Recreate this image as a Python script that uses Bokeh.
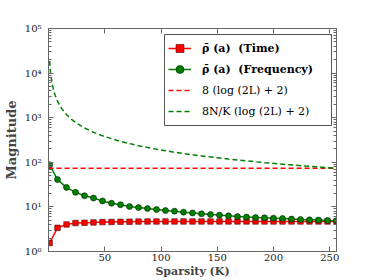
from bokeh.plotting import figure
from bokeh.models import (Range1d, LinearAxis, LogAxis, LogTicker, FixedTicker, Legend,
                          LegendItem, CustomJSTickFormatter, CustomLabelingPolicy,
                          BoxAnnotation)
from bokeh.embed import file_html
from bokeh.resources import INLINE

# ---- data ----
k_markers = [1, 8, 16, 24, 32, 40, 48, 56, 64, 72, 80, 88, 96, 104, 112, 120, 128,
             136, 144, 152, 160, 168, 176, 184, 192, 200, 208, 216, 224, 232, 240, 248, 256]
rho_time = [1.55, 3.4, 4.04, 4.34, 4.41, 4.48, 4.56, 4.6, 4.64, 4.66, 4.68, 4.7, 4.7,
            4.71, 4.71, 4.71, 4.72, 4.72, 4.72, 4.72, 4.72, 4.72, 4.72, 4.72, 4.72,
            4.72, 4.72, 4.72, 4.72, 4.72, 4.72, 4.72, 4.72]
rho_freq = [88, 41, 27.4, 21.2, 17.8, 15.8, 13.6, 12.1, 11.2, 10.2, 9.65, 9.17, 8.71,
            8.27, 8.02, 7.62, 7.3, 6.99, 6.74, 6.54, 6.31, 6.09, 5.9, 5.78, 5.7, 5.6,
            5.5, 5.33, 5.22, 5.14, 5.06, 4.96, 4.88]
bound_k = [0, 256]
bound_const = [73.5, 73.5]
bound_scaled_k = [1, 1.5, 2, 2.5, 3, 4, 5, 6, 8, 10, 12, 16, 20, 24, 32, 40, 48, 64, 80,
                  96, 112, 128, 160, 192, 224, 256]
bound_scaled = [18800, 12500, 9400, 7530, 6270, 4700, 3760, 3140, 2350, 1880, 1570, 1180,
                941, 784, 588, 470, 392, 294, 235, 196, 168, 147, 118, 98, 84, 73.5]
x_ticks = [50, 100, 150, 200, 250]
y_tick_labels = ["10\u2070", "10\u00b9", "10\u00b2", "10\u00b3", "10\u2074", "10\u2075"]
labels = ["\u03c1\u0304 (a)  (Time)", "\u03c1\u0304 (a)  (Frequency)",
          "8 (log (2L) + 2)", "8N/K (log (2L) + 2)"]

FONT = "DejaVu Serif"
AX = "#666666"

p = figure(width=374, height=280, x_range=Range1d(0, 256), y_range=Range1d(1, 1e5),
           y_axis_type="log", output_backend="svg", toolbar_location=None,
           min_border_left=47, min_border_right=38, min_border_top=28, min_border_bottom=27)
p.grid.visible = False
p.outline_line_color = AX
p.background_fill_color = "white"
p.border_fill_color = "white"

red_line = p.line(k_markers, rho_time, line_color="#ff0000", line_width=1.5)
red_pts = p.scatter(k_markers, rho_time, marker="square", size=5.5, fill_color="#ff0000",
                    line_color="#550000", line_width=0.6)
green_line = p.line(k_markers, rho_freq, line_color="#007f00", line_width=1.5)
green_pts = p.scatter(k_markers, rho_freq, marker="circle", size=6, fill_color="#007f00",
                      line_color="#002200", line_width=0.6)
red_dash = p.line(bound_k, bound_const, line_color="#ff0000", line_width=1.5, line_dash="5 3")
green_dash = p.line(bound_scaled_k, bound_scaled, line_color="#008000", line_width=1.5,
                    line_dash="5 3")

def style_axis(ax):
    ax.axis_line_color = AX
    ax.major_tick_line_color = AX
    ax.minor_tick_line_color = AX
    ax.major_tick_in = 5
    ax.major_tick_out = 0
    ax.minor_tick_in = 3
    ax.minor_tick_out = 0
    ax.major_label_text_font = FONT
    ax.major_label_text_font_size = "10px"
    ax.major_label_text_color = "#222222"

xa = p.xaxis[0]
xa.ticker = FixedTicker(ticks=x_ticks, minor_ticks=[])
style_axis(xa)
xa.major_label_standoff = 2
xa.axis_label = "Sparsity (K)"
xa.axis_label_standoff = 1
xa.axis_label_text_font = FONT
xa.axis_label_text_font_size = "11px"
xa.axis_label_text_font_style = "bold"

ytick_fmt = CustomJSTickFormatter(args=dict(labels=y_tick_labels),
                                  code="return labels[Math.round(Math.log10(tick))];")
ya = p.yaxis[0]
ya.ticker = LogTicker(num_minor_ticks=10)
ya.formatter = ytick_fmt
style_axis(ya)
ya.major_label_standoff = 7
ya.axis_label = "Magnitude"
ya.axis_label_standoff = 3
ya.axis_label_text_font = FONT
ya.axis_label_text_font_size = "13px"
ya.axis_label_text_font_style = "bold"

hide = CustomLabelingPolicy(code="return []")
top = LinearAxis(ticker=FixedTicker(ticks=x_ticks, minor_ticks=[]), major_label_policy=hide)
style_axis(top)
p.add_layout(top, "above")
right = LogAxis(ticker=LogTicker(num_minor_ticks=10), major_label_policy=hide)
style_axis(right)
p.add_layout(right, "right")

# legend frame (screen px, relative to the plot frame's bottom-left)
box = BoxAnnotation(left=116, right=283, top=217, bottom=126,
                    left_units="screen", right_units="screen",
                    top_units="screen", bottom_units="screen",
                    fill_color="white", fill_alpha=1, line_color="#555555",
                    line_width=1, line_alpha=1)
p.add_layout(box)

common = dict(spacing=1, glyph_width=23, glyph_height=20, label_height=20,
              label_standoff=11, label_text_font=FONT, label_text_font_size="11px",
              label_text_color="black", margin=0, padding=0,
              border_line_alpha=0, background_fill_alpha=0)

leg_bold = Legend(items=[LegendItem(label=labels[0], renderers=[red_line, red_pts]),
                         LegendItem(label=labels[1], renderers=[green_line, green_pts])],
                  location=(120, 172), label_text_font_style="bold", **common)
leg_norm = Legend(items=[LegendItem(label=labels[2], renderers=[red_dash]),
                         LegendItem(label=labels[3], renderers=[green_dash])],
                  location=(120, 130), label_text_font_style="normal", **common)
p.add_layout(leg_bold)
p.add_layout(leg_norm)

open("out.html", "w").write(file_html(p, INLINE))
